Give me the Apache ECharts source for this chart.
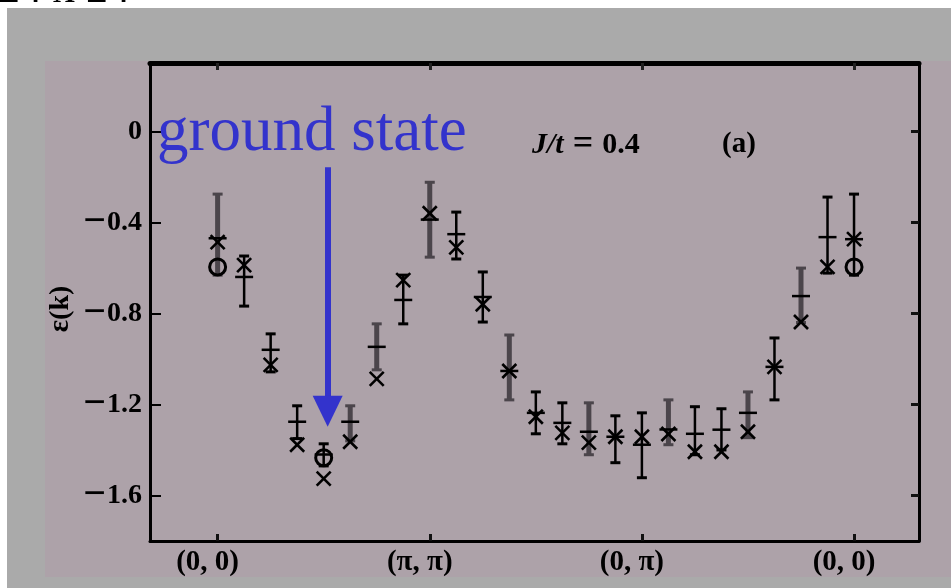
<!DOCTYPE html>
<html>
<head>
<meta charset="utf-8">
<script src="https://cdn.jsdelivr.net/npm/echarts@6/dist/echarts.min.js"></script>
<style>
html,body{margin:0;padding:0;background:#ffffff;}
#chart{width:951px;height:588px;}
</style>
</head>
<body>
<div id="chart"></div>
<script>
// ---- data ----
const kTickPos = [0, 8, 16, 24];
const kTickLabels = ['(0, 0)', '(π, π)', '(0, π)', '(0, 0)'];
const yTickValues = [-1.6, -1.2, -0.8, -0.4, 0];

// set A: black error bars (k index, mean, lower, upper)
const setA_k    = [1, 2, 3, 4, 7, 9, 10, 12, 13, 15, 16, 18, 19, 21, 23, 24];
const setA_mean = [-0.64, -0.96, -1.276, -1.42, -0.741, -0.452, -0.728, -1.237, -1.281, -1.342, -1.377, -1.329, -1.311, -1.035, -0.465, -0.474];
const setA_lo   = [-0.768, -1.057, -1.35, -1.47, -0.846, -0.561, -0.838, -1.329, -1.373, -1.456, -1.522, -1.421, -1.40, -1.18, -0.623, -0.632];
const setA_hi   = [-0.548, -0.89, -1.206, -1.373, -0.632, -0.355, -0.618, -1.145, -1.193, -1.25, -1.237, -1.21, -1.219, -0.908, -0.289, -0.276];

// set B: grey error bars
const setB_k    = [0, 5, 6, 8, 11, 14, 17, 20, 22];
const setB_mean = [-0.47, -1.276, -0.947, -0.388, -1.053, -1.32, -1.31, -1.237, -0.724];
const setB_lo   = [-0.632, -1.36, -1.048, -0.553, -1.18, -1.421, -1.377, -1.346, -0.84];
const setB_hi   = [-0.276, -1.206, -0.846, -0.224, -0.895, -1.193, -1.18, -1.145, -0.601];

// crosses
const crossK   = [0, 1, 2, 3, 4, 5, 6, 7, 8, 9, 10, 11, 12, 13, 14, 15, 16, 17, 18, 19, 20, 21, 22, 23, 24];
const crossVal = [-0.487, -0.588, -1.026, -1.377, -1.526, -1.364, -1.088, -0.654, -0.36, -0.51, -0.76, -1.053, -1.254, -1.325, -1.368, -1.342, -1.342, -1.33, -1.408, -1.408, -1.32, -1.035, -0.838, -0.596, -0.474];

// circles
const circleK   = [0, 4, 24];
const circleVal = [-0.596, -1.434, -0.596];

// arrow annotation (data coords)
const arrowK = 4.15;
const arrowFrom = -0.158;
const arrowTo = -1.23;

// ---- build ----
const dataA = setA_k.map((k, i) => [k, setA_mean[i], setA_lo[i], setA_hi[i]]);
const dataB = setB_k.map((k, i) => [k, setB_mean[i], setB_lo[i], setB_hi[i]]);
const dataX = crossK.map((k, i) => [k, crossVal[i]]);
const dataO = circleK.map((k, i) => [k, circleVal[i]]);

function errRender(color, lw) {
  return function (params, api) {
    const x = api.value(0);
    const pm = api.coord([x, api.value(1)]);
    const pl = api.coord([x, api.value(2)]);
    const ph = api.coord([x, api.value(3)]);
    const cap = 5, tk = 9;
    const st = { stroke: color, lineWidth: lw };
    return {
      type: 'group',
      children: [
        { type: 'line', shape: { x1: pl[0], y1: pl[1], x2: ph[0], y2: ph[1] }, style: st },
        { type: 'line', shape: { x1: pl[0] - cap, y1: pl[1], x2: pl[0] + cap, y2: pl[1] }, style: { stroke: color, lineWidth: 3 } },
        { type: 'line', shape: { x1: ph[0] - cap, y1: ph[1], x2: ph[0] + cap, y2: ph[1] }, style: { stroke: color, lineWidth: 3 } },
        { type: 'line', shape: { x1: pm[0] - tk, y1: pm[1], x2: pm[0] + tk, y2: pm[1] }, style: { stroke: '#000', lineWidth: 2.5 } }
      ]
    };
  };
}

function crossRender(params, api) {
  const p = api.coord([api.value(0), api.value(1)]);
  const s = 7;
  const st = { stroke: '#000', lineWidth: 2.6 };
  return {
    type: 'group',
    children: [
      { type: 'line', shape: { x1: p[0] - s, y1: p[1] - s, x2: p[0] + s, y2: p[1] + s }, style: st },
      { type: 'line', shape: { x1: p[0] - s, y1: p[1] + s, x2: p[0] + s, y2: p[1] - s }, style: st }
    ]
  };
}

function circleRender(params, api) {
  const p = api.coord([api.value(0), api.value(1)]);
  return {
    type: 'circle',
    shape: { cx: p[0], cy: p[1], r: 8 },
    style: { fill: 'none', stroke: '#000', lineWidth: 3 }
  };
}

const serif = '"Liberation Serif", "DejaVu Serif", serif';
const chart = echarts.init(document.getElementById('chart'), null, { renderer: 'canvas' });

const fmtY = v => (Math.abs(v) < 1e-9 ? '{n|0}' : '{m|\u2212}{n|' + Math.abs(v).toFixed(1) + '}');

chart.setOption({
  animation: false,
  backgroundColor: 'transparent',
  grid: { left: 150, right: 32, top: 63, bottom: 47, containLabel: false },
  xAxis: [
    {
      type: 'value', min: -2.55, max: 26.45, position: 'bottom',
      axisLine: { show: true, onZero: false, lineStyle: { color: '#000', width: 3 } },
      axisTick: { show: true, inside: true, length: 7, customValues: kTickPos, lineStyle: { color: '#111', width: 3 } },
      axisLabel: {
        show: true, customValues: kTickPos, margin: 7, padding: [0, 20, 0, 0],
        formatter: v => kTickLabels[kTickPos.indexOf(Math.round(v))] || '',
        color: '#000', fontFamily: serif, fontWeight: 'bold', fontSize: 29
      },
      splitLine: { show: false }
    },
    {
      type: 'value', min: -2.55, max: 26.45, position: 'top',
      axisLine: { show: true, onZero: false, lineStyle: { color: '#000', width: 5 } },
      axisTick: { show: true, inside: true, length: 7, customValues: kTickPos, lineStyle: { color: '#222', width: 3 } },
      axisLabel: { show: false },
      splitLine: { show: false }
    }
  ],
  yAxis: [
    {
      type: 'value', min: -1.8, max: 0.3, position: 'left',
      axisLine: { show: true, onZero: false, lineStyle: { color: '#000', width: 3 } },
      axisTick: { show: true, inside: true, length: 11, customValues: yTickValues, lineStyle: { color: '#000', width: 2 } },
      axisLabel: {
        show: true, customValues: yTickValues, margin: 8, formatter: fmtY,
        color: '#000', fontFamily: serif, fontWeight: 'bold', fontSize: 28,
        rich: {
          m: { fontFamily: serif, fontWeight: 'bold', fontSize: 40, color: '#000', padding: [0, 1, 0, 0] },
          n: { fontFamily: serif, fontWeight: 'bold', fontSize: 28, color: '#000' }
        }
      },
      splitLine: { show: false }
    },
    {
      type: 'value', min: -1.8, max: 0.3, position: 'right',
      axisLine: { show: true, onZero: false, lineStyle: { color: '#000', width: 3 } },
      axisTick: { show: true, inside: true, length: 8, customValues: yTickValues, lineStyle: { color: '#111', width: 3 } },
      axisLabel: { show: false },
      splitLine: { show: false }
    }
  ],
  graphic: [
    { type: 'rect', z: -100, shape: { x: 7, y: 8, width: 944, height: 580 }, style: { fill: '#aaaaaa' }, silent: true },
    { type: 'rect', z: -99, shape: { x: 45, y: 61, width: 906, height: 516 }, style: { fill: '#ada2a9' }, silent: true },
    { type: 'text', z: 50, x: -2, y: -32, style: { text: '24 x 24', font: '44px ' + serif, fill: '#000', verticalAlign: 'top' } },
    { type: 'text', z: 50, x: 157, y: 102, style: { text: 'ground state', font: '63px ' + serif, fill: '#3333cc', verticalAlign: 'top' } },
    {
      type: 'text', z: 50, x: 532, y: 145,
      style: {
        text: '{i|J/t}{s|=}{n|0.4}', verticalAlign: 'middle',
        rich: {
          i: { font: 'italic bold 30px ' + serif, fill: '#000' },
          s: { font: 'bold 36px ' + serif, fill: '#000', padding: [0, 9, 0, 9] },
          n: { font: 'bold 30px ' + serif, fill: '#000' }
        }
      }
    },
    { type: 'text', z: 50, x: 722, y: 145, style: { text: '(a)', font: 'bold 29px ' + serif, fill: '#000', verticalAlign: 'middle' } },
    {
      type: 'text', z: 50, x: 61, y: 309, rotation: Math.PI / 2,
      style: {
        text: '{e|ε}{n|(}{k|k}{n|)}', align: 'center', verticalAlign: 'middle',
        rich: {
          e: { font: 'bold 29px ' + serif, fill: '#000' },
          n: { font: 'bold 28px ' + serif, fill: '#000' },
          k: { font: 'bold 28px ' + serif, fill: '#000' }
        }
      }
    }
  ],
  series: [
    {
      name: 'grey bars', type: 'custom', xAxisIndex: 0, yAxisIndex: 0,
      renderItem: errRender('#4b454b', 5), data: dataB, z: 3
    },
    {
      name: 'black bars', type: 'custom', xAxisIndex: 0, yAxisIndex: 0,
      renderItem: errRender('#000', 2.5), data: dataA, z: 3
    },
    {
      name: 'crosses', type: 'custom', xAxisIndex: 0, yAxisIndex: 0,
      renderItem: crossRender, data: dataX, z: 4
    },
    {
      name: 'circles', type: 'custom', xAxisIndex: 0, yAxisIndex: 0,
      renderItem: circleRender, data: dataO, z: 4
    },
    {
      name: 'arrow', type: 'line', xAxisIndex: 0, yAxisIndex: 0, data: [], z: 5,
      markLine: {
        silent: true, animation: false,
        symbol: ['none', 'triangle'], symbolSize: [30, 31],
        label: { show: false },
        lineStyle: { color: '#3333cc', width: 6, type: 'solid' },
        itemStyle: { color: '#3333cc' },
        data: [[{ coord: [arrowK, arrowFrom] }, { coord: [arrowK, arrowTo] }]]
      }
    }
  ]
});
</script>
</body>
</html>
